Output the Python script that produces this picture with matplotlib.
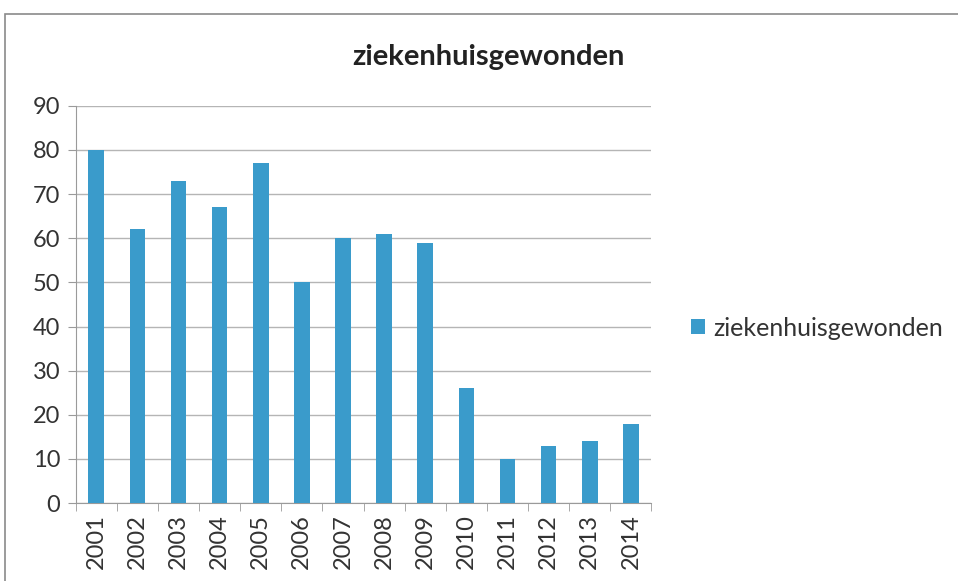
import matplotlib.pyplot as plt
from matplotlib.patches import Rectangle

# data
years = ['2001', '2002', '2003', '2004', '2005', '2006', '2007',
         '2008', '2009', '2010', '2011', '2012', '2013', '2014']
gewonden = [80, 62, 73, 67, 77, 50, 60, 61, 59, 26, 10, 13, 14, 18]
series_name = 'ziekenhuisgewonden'
y_ticks = [0, 10, 20, 30, 40, 50, 60, 70, 80, 90]

plt.rcParams['font.family'] = ['Lato', 'DejaVu Sans']

bar_color = '#3a9bcb'
text_color = '#333333'

fig = plt.figure(figsize=(9.58, 5.81), dpi=100)
ax = fig.add_axes([0.079, 0.134, 0.601, 0.684])

x = range(len(years))
ax.bar(x, gewonden, width=0.38, color=bar_color, label=series_name, zorder=3)

ax.set_xlim(-0.5, len(years) - 0.5)
ax.set_ylim(0, 90)
ax.set_yticks(y_ticks)
ax.set_yticklabels([str(v) for v in y_ticks], fontsize=17, color=text_color)
ax.set_xticks(list(x))
ax.set_xticklabels(years, rotation=90, fontsize=17, color=text_color)
ax.tick_params(axis='x', length=0, pad=8)
ax.set_xticks([i + 0.5 for i in range(-1, len(years))], minor=True)
ax.tick_params(axis='x', which='minor', length=6, color='#9a9a9a')
ax.tick_params(axis='y', length=6, color='#9a9a9a', pad=5)

ax.yaxis.grid(True, color='#b5b5b5', linewidth=1.0, zorder=0)
for side in ['top', 'right']:
    ax.spines[side].set_visible(False)
for side in ['left', 'bottom']:
    ax.spines[side].set_color('#9a9a9a')

# chart title is centred on the whole chart, not on the plot area
fig.text(488 / 958, 1 - 57 / 581, series_name, fontsize=21, fontweight='bold',
         color='#222222', ha='center', va='center')

ax.legend(loc='center left', bbox_to_anchor=(1.03, 0.44), frameon=False,
          fontsize=18, handlelength=0.55, handleheight=0.55, handletextpad=0.35,
          labelcolor=text_color)

# outer chart frame (cropped on the right and bottom)
fig.patches.append(Rectangle((5 / 958, -0.1), 1.2, 1 - 14 / 581 + 0.1,
                             transform=fig.transFigure, fill=False,
                             edgecolor='#8a8a8a', linewidth=1.2))

plt.savefig('out.png', dpi=100)
